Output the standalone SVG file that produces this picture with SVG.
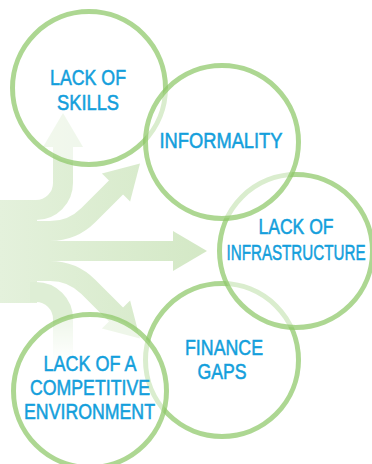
<svg xmlns="http://www.w3.org/2000/svg" width="372" height="464" viewBox="0 0 372 464">
<style>
.arr{fill:none;stroke:url(#ag);stroke-width:20}
.head{fill:url(#ag)}
.c{fill:#fff;fill-opacity:0.55;stroke:#8dc868;stroke-opacity:0.72;stroke-width:5}
.t{font-family:"Liberation Sans",Arial,sans-serif;font-size:22px;fill:#149fdc;stroke:#149fdc;stroke-width:0.55;text-anchor:middle}
</style>
<defs>
<linearGradient id="ag" gradientUnits="userSpaceOnUse" x1="0" y1="0" x2="210" y2="0">
<stop offset="0" stop-color="#e4f1dc"/>
<stop offset="1" stop-color="#d3e8c5"/>
</linearGradient>
<linearGradient id="dg" gradientUnits="userSpaceOnUse" x1="0" y1="322" x2="0" y2="362">
<stop offset="0" stop-color="#deeed5" stop-opacity="1"/>
<stop offset="1" stop-color="#deeed5" stop-opacity="0"/>
</linearGradient>
</defs>
<rect width="372" height="464" fill="#fff"/>
<g id="connectors">
<rect x="0" y="200" width="37" height="103" class="head"/>
<path class="arr" d="M30,210 H36 A27,27 0 0 0 63,183 V146"/>
<polygon class="head" points="43,147 83,147 63,113"/>
<path class="arr" d="M30,231 H50 A54,54 0 0 0 88.2,215.2 L117,186.5"/>
<polygon class="head" points="101.9,173.4 140,163.5 130.1,201.6"/>
<path class="arr" d="M30,251 H174"/>
<polygon class="head" points="173,231 207,251 173,271"/>
<path class="arr" d="M30,271 H50 A54,54 0 0 1 88.2,286.8 L117,315.5"/>
<polygon class="head" points="101.9,328.6 140,338.5 130.1,300.4"/>
<path fill="none" stroke="url(#dg)" stroke-width="20" d="M30,292 H36 A27,27 0 0 1 63,319 V362"/>
</g>
<g id="node-finance">
<circle class="c" cx="222" cy="360" r="76.5"/>
<text class="t" x="224" y="355" textLength="78" lengthAdjust="spacingAndGlyphs">FINANCE</text>
<text class="t" x="222" y="379" textLength="49" lengthAdjust="spacingAndGlyphs">GAPS</text>
</g>
<g id="node-competitive">
<circle class="c" cx="90" cy="391" r="76.5"/>
<text class="t" x="90" y="370.5" textLength="93" lengthAdjust="spacingAndGlyphs">LACK OF A</text>
<text class="t" x="90" y="395" textLength="120" lengthAdjust="spacingAndGlyphs">COMPETITIVE</text>
<text class="t" x="89.5" y="419" textLength="131" lengthAdjust="spacingAndGlyphs">ENVIRONMENT</text>
</g>
<g id="node-infrastructure">
<circle class="c" cx="296" cy="251" r="76.5"/>
<text class="t" x="296" y="234" textLength="75" lengthAdjust="spacingAndGlyphs">LACK OF</text>
<text class="t" x="296" y="259.5" textLength="139" lengthAdjust="spacingAndGlyphs">INFRASTRUCTURE</text>
</g>
<g id="node-skills">
<circle class="c" cx="89" cy="88" r="76.5"/>
<text class="t" x="88" y="85" textLength="76" lengthAdjust="spacingAndGlyphs">LACK OF</text>
<text class="t" x="88" y="110" textLength="62" lengthAdjust="spacingAndGlyphs">SKILLS</text>
</g>
<g id="node-informality">
<circle class="c" cx="222" cy="142" r="76.5"/>
<text class="t" x="221" y="147.5" textLength="123" lengthAdjust="spacingAndGlyphs">INFORMALITY</text>
</g>
</svg>
